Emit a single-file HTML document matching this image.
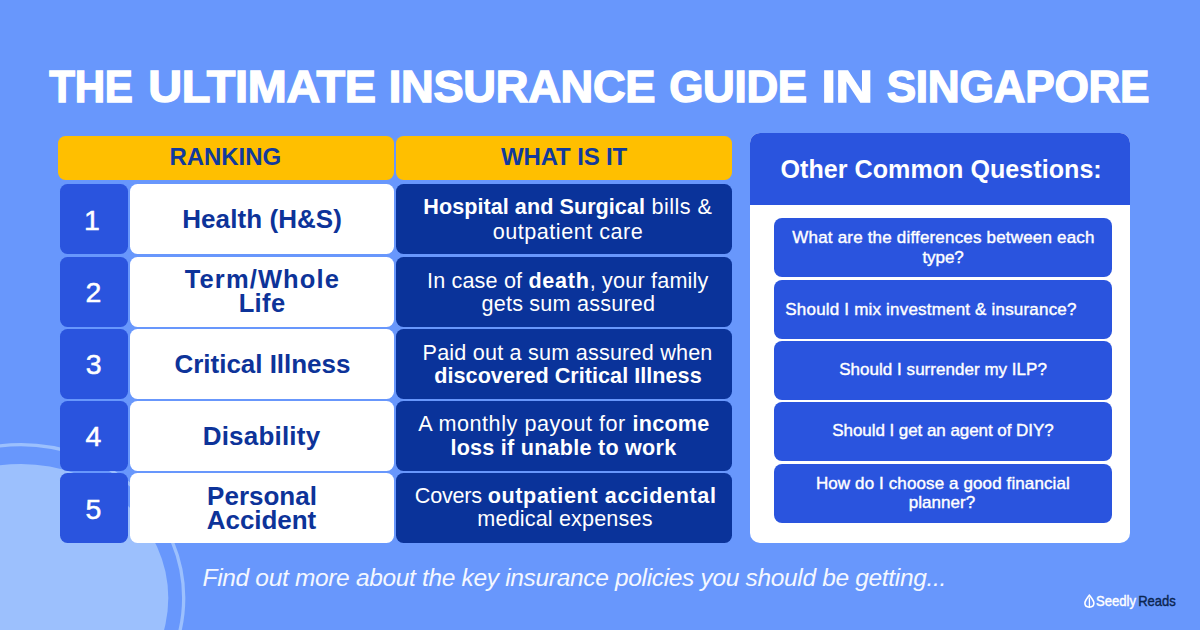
<!DOCTYPE html>
<html><head><meta charset="utf-8">
<style>
*{margin:0;padding:0;box-sizing:border-box}
html,body{width:1200px;height:630px;overflow:hidden}
body{background:#6897fc;font-family:"Liberation Sans",sans-serif;position:relative}
#deco{position:absolute;left:0;top:0}
.r{position:absolute;border-radius:7.5px}
.t{position:absolute;text-align:center;white-space:nowrap}
.t b{font-weight:bold}
.hdr{top:136px;height:44px;background:#ffbf00;width:336px}
.num{left:60px;width:68px;height:70px;background:#2a54de}
.name{left:130px;width:264px;height:70px;background:#fff}
.what{left:396px;width:336px;height:70px;background:#0a339a}
.panel{position:absolute;left:750px;top:133px;width:380px;height:410px;background:#fff;border-radius:10px;overflow:hidden}
.phead{position:absolute;left:0;top:0;width:380px;height:71.6px;background:#2a54de}
.q{position:absolute;left:24px;width:338px;height:59px;background:#2a54de;border-radius:8px}

</style></head><body>
<svg id="deco" width="1200" height="630" viewBox="0 0 1200 630">
  <ellipse cx="21" cy="598" rx="147.3" ry="134" fill="#9cc0fd"/>
  <ellipse cx="21" cy="598" rx="162.7" ry="153.3" fill="none" stroke="#9cc0fd" stroke-width="3.3"/>
</svg>
<div class="r hdr" style="left:58px"></div>
<div class="r hdr" style="left:396px"></div>
<div class="r num" style="top:184px"></div>
<div class="r name" style="top:184px"></div>
<div class="r what" style="top:184px"></div>
<div class="r num" style="top:257px"></div>
<div class="r name" style="top:257px"></div>
<div class="r what" style="top:257px"></div>
<div class="r num" style="top:329px"></div>
<div class="r name" style="top:329px"></div>
<div class="r what" style="top:329px"></div>
<div class="r num" style="top:401px"></div>
<div class="r name" style="top:401px"></div>
<div class="r what" style="top:401px"></div>
<div class="r num" style="top:473px"></div>
<div class="r name" style="top:473px"></div>
<div class="r what" style="top:473px"></div>
<div class="panel">
  <div class="phead"></div>
  <div class="q" style="top:85px"></div>
  <div class="q" style="top:147px"></div>
  <div class="q" style="top:208px"></div>
  <div class="q" style="top:269px"></div>
  <div class="q" style="top:331px"></div>
</div>
<svg style="position:absolute;left:1080px;top:590px" width="20" height="22" viewBox="1080 590 20 22">
  <path d="M1089.4 595.1 C1087.2 597.8 1084.9 600.6 1084.9 603.1 C1084.9 605.8 1086.9 607.2 1089.4 607.2 C1091.9 607.2 1093.9 605.8 1093.9 603.1 C1093.9 600.6 1091.6 597.8 1089.4 595.1 Z" fill="none" stroke="#fff" stroke-width="1.6" stroke-linejoin="round"/>
  <line x1="1089.4" y1="597.5" x2="1089.4" y2="607" stroke="#fff" stroke-width="1.3"/>
</svg>

<div class="t" id="tw0" style="left:-708.55px;top:64.36px;width:1600px;font-size:44.8px;line-height:44.8px;color:#ffffff;letter-spacing:-0.300px;font-weight:bold;-webkit-text-stroke:1.4px #fff;transform:scaleX(0.9396);transform-origin:50% 50%;">THE</div>
<div class="t" id="tw1" style="left:-537.97px;top:64.36px;width:1600px;font-size:44.8px;line-height:44.8px;color:#ffffff;letter-spacing:-0.300px;font-weight:bold;-webkit-text-stroke:1.4px #fff;transform:scaleX(1.0457);transform-origin:50% 50%;">ULTIMATE</div>
<div class="t" id="tw2" style="left:-278.40px;top:64.36px;width:1600px;font-size:44.8px;line-height:44.8px;color:#ffffff;letter-spacing:-0.300px;font-weight:bold;-webkit-text-stroke:1.4px #fff;transform:scaleX(1.0103);transform-origin:50% 50%;">INSURANCE</div>
<div class="t" id="tw3" style="left:-61.72px;top:64.36px;width:1600px;font-size:44.8px;line-height:44.8px;color:#ffffff;letter-spacing:-0.300px;font-weight:bold;-webkit-text-stroke:1.4px #fff;transform:scaleX(0.9808);transform-origin:50% 50%;">GUIDE</div>
<div class="t" id="tw4" style="left:46.76px;top:64.36px;width:1600px;font-size:44.8px;line-height:44.8px;color:#ffffff;letter-spacing:-0.300px;font-weight:bold;-webkit-text-stroke:1.4px #fff;transform:scaleX(1.1580);transform-origin:50% 50%;">IN</div>
<div class="t" id="tw5" style="left:217.98px;top:64.36px;width:1600px;font-size:44.8px;line-height:44.8px;color:#ffffff;letter-spacing:-0.300px;font-weight:bold;-webkit-text-stroke:1.4px #fff;transform:scaleX(0.9868);transform-origin:50% 50%;">SINGAPORE</div>
<div class="t" id="h1" style="left:-574.73px;top:145.23px;width:1600px;font-size:24px;line-height:24px;color:#123a9c;letter-spacing:-0.080px;font-weight:bold;">RANKING</div>
<div class="t" id="h2" style="left:-235.95px;top:145.23px;width:1600px;font-size:24px;line-height:24px;color:#123a9c;letter-spacing:-0.150px;font-weight:bold;">WHAT IS IT</div>
<div class="t" id="n1" style="left:-708.12px;top:205.57px;width:1600px;font-size:28.5px;line-height:28.5px;color:#ffffff;-webkit-text-stroke:0.5px #fff;">1</div>
<div class="t" id="n2" style="left:-706.50px;top:277.87px;width:1600px;font-size:28.5px;line-height:28.5px;color:#ffffff;-webkit-text-stroke:0.5px #fff;">2</div>
<div class="t" id="n3" style="left:-706.38px;top:350.27px;width:1600px;font-size:28.5px;line-height:28.5px;color:#ffffff;-webkit-text-stroke:0.5px #fff;">3</div>
<div class="t" id="n4" style="left:-706.50px;top:422.47px;width:1600px;font-size:28.5px;line-height:28.5px;color:#ffffff;-webkit-text-stroke:0.5px #fff;">4</div>
<div class="t" id="n5" style="left:-706.49px;top:494.67px;width:1600px;font-size:28.5px;line-height:28.5px;color:#ffffff;-webkit-text-stroke:0.5px #fff;">5</div>
<div class="t" id="nm1" style="left:-537.88px;top:205.68px;width:1600px;font-size:26px;line-height:26px;color:#0d3399;letter-spacing:0.077px;font-weight:bold;">Health (H&amp;S)</div>
<div class="t" id="nm2a" style="left:-537.62px;top:267.16px;width:1600px;font-size:25.5px;line-height:25.5px;color:#0d3399;letter-spacing:1.125px;font-weight:bold;">Term/Whole</div>
<div class="t" id="nm2b" style="left:-537.92px;top:290.91px;width:1600px;font-size:25.5px;line-height:25.5px;color:#0d3399;letter-spacing:0.375px;font-weight:bold;">Life</div>
<div class="t" id="nm3" style="left:-537.55px;top:350.98px;width:1600px;font-size:26px;line-height:26px;color:#0d3399;letter-spacing:-0.030px;font-weight:bold;">Critical Illness</div>
<div class="t" id="nm4" style="left:-538.50px;top:422.78px;width:1600px;font-size:26px;line-height:26px;color:#0d3399;letter-spacing:0.200px;font-weight:bold;">Disability</div>
<div class="t" id="nm5a" style="left:-538.00px;top:482.98px;width:1600px;font-size:26px;line-height:26px;color:#0d3399;font-weight:bold;">Personal</div>
<div class="t" id="nm5b" style="left:-538.50px;top:506.73px;width:1600px;font-size:26px;line-height:26px;color:#0d3399;letter-spacing:-0.064px;font-weight:bold;">Accident</div>
<div class="t" id="w1a" style="left:-232.13px;top:196.21px;width:1600px;font-size:21.6px;line-height:21.6px;color:#ffffff;letter-spacing:-1.784px;"><b style="letter-spacing:0.048px">Hospital and Surgical</b><span style="letter-spacing:0.479px"> bills &amp;</span></div>
<div class="t" id="w1b" style="left:-232.00px;top:220.51px;width:1600px;font-size:21.6px;line-height:21.6px;color:#ffffff;letter-spacing:0.515px;">outpatient care</div>
<div class="t" id="w2a" style="left:-232.22px;top:269.71px;width:1600px;font-size:21.6px;line-height:21.6px;color:#ffffff;letter-spacing:0.183px;"><span style="letter-spacing:0.157px">In case of </span><b style="letter-spacing:0.756px">death</b><span style="letter-spacing:0.183px">, your family</span></div>
<div class="t" id="w2b" style="left:-231.60px;top:293.21px;width:1600px;font-size:21.6px;line-height:21.6px;color:#ffffff;letter-spacing:0.210px;">gets sum assured</div>
<div class="t" id="w3a" style="left:-232.45px;top:341.71px;width:1600px;font-size:21.6px;line-height:21.6px;color:#ffffff;letter-spacing:0.207px;">Paid out a sum assured when</div>
<div class="t" id="w3b" style="left:-232.00px;top:364.91px;width:1600px;font-size:21.6px;line-height:21.6px;color:#ffffff;letter-spacing:0.035px;"><b>discovered Critical Illness</b></div>
<div class="t" id="w4a" style="left:-236.14px;top:413.21px;width:1600px;font-size:21.6px;line-height:21.6px;color:#ffffff;letter-spacing:-0.327px;"><span style="letter-spacing:0.544px">A monthly payout for </span><b style="letter-spacing:0.265px">income</b></div>
<div class="t" id="w4b" style="left:-236.60px;top:436.91px;width:1600px;font-size:21.6px;line-height:21.6px;color:#ffffff;letter-spacing:0.236px;"><b>loss if unable to work</b></div>
<div class="t" id="w5a" style="left:-234.36px;top:484.91px;width:1600px;font-size:21.6px;line-height:21.6px;color:#ffffff;letter-spacing:-0.270px;"><span style="letter-spacing:-0.213px">Covers </span><b style="letter-spacing:0.612px">outpatient accidental</b></div>
<div class="t" id="w5b" style="left:-235.05px;top:508.41px;width:1600px;font-size:21.6px;line-height:21.6px;color:#ffffff;letter-spacing:0.150px;">medical expenses</div>
<div class="t" id="ph" style="left:141.15px;top:156.55px;width:1600px;font-size:25.1px;line-height:25.1px;color:#ffffff;letter-spacing:0.026px;font-weight:bold;">Other Common Questions:</div>
<div class="t" id="q1a" style="left:143.50px;top:229.10px;width:1600px;font-size:17px;line-height:17px;color:#ffffff;letter-spacing:0.183px;-webkit-text-stroke:0.4px #fff;">What are the differences between each</div>
<div class="t" id="q1b" style="left:143.05px;top:248.90px;width:1600px;font-size:17px;line-height:17px;color:#ffffff;letter-spacing:-0.053px;-webkit-text-stroke:0.4px #fff;">type?</div>
<div class="t" id="q2" style="left:131.00px;top:300.60px;width:1600px;font-size:17px;line-height:17px;color:#ffffff;letter-spacing:0.191px;-webkit-text-stroke:0.4px #fff;">Should I mix investment &amp; insurance?</div>
<div class="t" id="q3" style="left:143.10px;top:361.30px;width:1600px;font-size:17px;line-height:17px;color:#ffffff;letter-spacing:0.031px;-webkit-text-stroke:0.4px #fff;">Should I surrender my ILP?</div>
<div class="t" id="q4" style="left:142.95px;top:422.10px;width:1600px;font-size:17px;line-height:17px;color:#ffffff;letter-spacing:-0.058px;-webkit-text-stroke:0.4px #fff;">Should I get an agent of DIY?</div>
<div class="t" id="q5a" style="left:142.95px;top:474.60px;width:1600px;font-size:17px;line-height:17px;color:#ffffff;letter-spacing:0.113px;-webkit-text-stroke:0.4px #fff;">How do I choose a good financial</div>
<div class="t" id="q5b" style="left:142.01px;top:494.00px;width:1600px;font-size:17px;line-height:17px;color:#ffffff;letter-spacing:0.063px;-webkit-text-stroke:0.4px #fff;">planner?</div>
<div class="t" id="foot" style="left:-225.75px;top:566.05px;width:1600px;font-size:24.5px;line-height:24.5px;color:#f4f7ff;letter-spacing:-0.329px;font-style:italic;">Find out more about the key insurance policies you should be getting...</div>
<div class="t" id="lg1" style="left:315.98px;top:593.72px;width:1600px;font-size:14.5px;line-height:14.5px;color:#ffffff;-webkit-text-stroke:0.4px #fff;transform:scaleX(0.9008);transform-origin:50% 50%;">Seedly</div>
<div class="t" id="lg2" style="left:356.60px;top:593.62px;width:1600px;font-size:14.5px;line-height:14.5px;color:#0b2550;-webkit-text-stroke:0.4px #0b2550;transform:scaleX(0.9000);transform-origin:50% 50%;">Reads</div>
</body></html>
